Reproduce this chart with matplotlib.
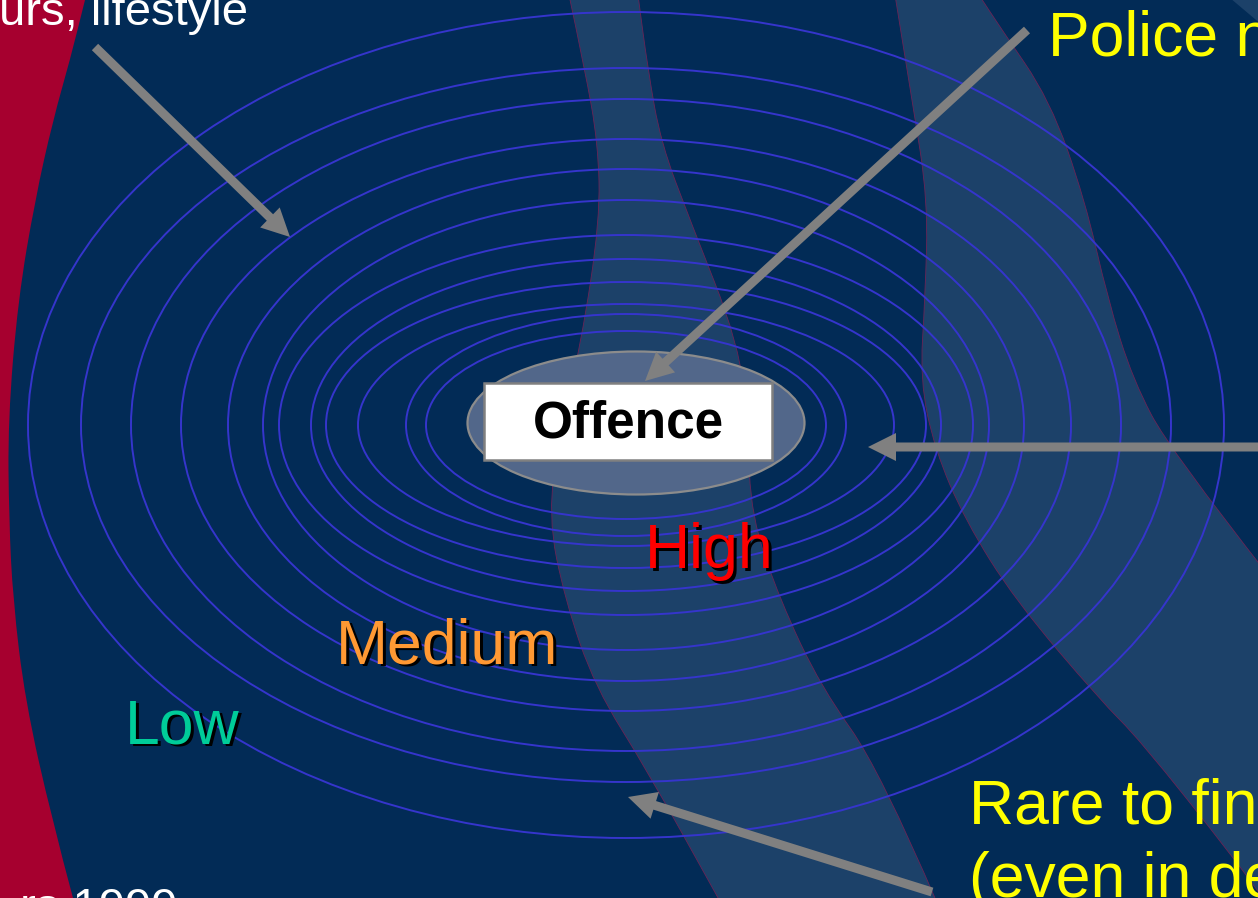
import matplotlib
matplotlib.use("Agg")
import matplotlib.pyplot as plt
from matplotlib.patches import Ellipse, Polygon, Rectangle, FancyArrow, PathPatch
from matplotlib.path import Path

# -----------------------------
# Shapes (pixel units of the slide)
# -----------------------------
W, H = 1258, 898

# left red area, edge x at each y
red_y = [0, 60, 120, 200, 300, 420, 520, 600, 700, 820, 898]
red_x = [85, 70, 53, 35, 18, 8, 9, 13, 25, 52, 73]

# middle light band
band1_y = [-5, 70, 143, 220, 344, 430, 516, 600, 687, 770, 905]
band1_left = [569, 585, 598, 600, 581, 560, 548, 565, 595, 647, 722]
band1_right = [638, 648, 661, 690, 739, 748, 751, 780, 821, 880, 938]

# right light band
band2_left_y = [-5, 100, 200, 300, 380, 450, 520, 600, 700, 740, 857, 905]
band2_left = [895, 912, 928, 925, 920, 935, 965, 1015, 1100, 1140, 1233, 1268]
band2_right_y = [-5, 27, 100, 200, 300, 380, 450, 575]
band2_right = [979, 1000, 1050, 1085, 1108, 1133, 1170, 1268]

# concentric rings round the offence (semi axes)
ring_a = [598, 545, 495, 445, 398, 363, 347, 315, 300, 268, 220, 200]
ring_b = [413, 357, 326, 286, 256, 225, 190, 166, 143, 121, 111, 94]

levels = ["High", "Medium", "Low"]
level_colors = ["#FF0000", "#FF9933", "#00CC99"]

BG = "#022B56"
RED = "#A6002F"
BAND = "#1C4169"
RING = "#3535CC"
ARROW = "#808080"
YELLOW = "#FFFF00"
FONT = "Liberation Sans"


def smooth(pts, first=True):
    # quadratic curves through the midpoints, so the edge has no corners
    verts, codes = [pts[0]], [Path.MOVETO if first else Path.LINETO]
    for i in range(1, len(pts) - 1):
        mid = ((pts[i][0] + pts[i + 1][0]) / 2, (pts[i][1] + pts[i + 1][1]) / 2)
        verts += [pts[i], mid]
        codes += [Path.CURVE3, Path.CURVE3]
    verts.append(pts[-1])
    codes.append(Path.LINETO)
    return verts, codes


def band_patch(lx, ly, rx, ry, **kw):
    v1, c1 = smooth(list(zip(lx, ly)))
    v2, c2 = smooth(list(zip(rx[::-1], ry[::-1])), first=False)
    verts = v1 + v2 + [v1[0]]
    codes = c1 + c2 + [Path.CLOSEPOLY]
    return PathPatch(Path(verts, codes), **kw)


fig = plt.figure(figsize=(W / 100, H / 100), dpi=100)
fig.patch.set_facecolor(BG)
ax = fig.add_axes([0, 0, 1, 1])
ax.set_xlim(0, W)
ax.set_ylim(H, 0)
ax.axis("off")
ax.set_facecolor(BG)

# red area
ax.add_patch(band_patch([-10] * 2, [-10, H + 10], red_x, red_y,
                        facecolor=RED, edgecolor="none", zorder=1))

# light bands
ax.add_patch(band_patch(band1_left, band1_y, band1_right, band1_y,
                        facecolor=BAND, edgecolor="#6a2456", linewidth=0.6, zorder=2))
ax.add_patch(band_patch(band2_left, band2_left_y, band2_right, band2_right_y,
                        facecolor=BAND, edgecolor="#6a2456", linewidth=0.6, zorder=2))
ax.add_patch(Polygon([(1230, -2), (1262, -2), (1262, 25)], closed=True,
                     facecolor=BAND, edgecolor="none", zorder=2))

# rings
cx, cy = 626, 425
for a, b in zip(ring_a, ring_b):
    ax.add_patch(Ellipse((cx, cy), 2 * a, 2 * b, fill=False, edgecolor=RING,
                         linewidth=1.4, zorder=3))

# offence
ax.add_patch(Ellipse((636, 423), 337, 143, facecolor="#52678A", edgecolor="#8C8C8C",
                     linewidth=1.6, zorder=4))
ax.add_patch(Rectangle((484, 383), 288, 77, facecolor="white", edgecolor="#808080",
                       linewidth=1.8, zorder=5))
ax.text(628, 424, "Offence", ha="center", va="center", fontsize=37,
        fontweight="bold", family=FONT, color="black", zorder=6)

# arrows
arrows = [((95, 47), (290, 237)),
          ((1027, 30), (645, 381)),
          ((1262, 447), (868, 447)),
          ((932, 892), (628, 797))]
for (x0, y0), (x1, y1) in arrows:
    ax.add_patch(FancyArrow(x0, y0, x1 - x0, y1 - y0, width=9, head_width=28,
                            head_length=28, length_includes_head=True,
                            color=ARROW, linewidth=0, zorder=7))

# level labels with shadow
level_pos = [(645, 568), (336, 663), (125, 743)]
for t, c, (x, y) in zip(levels, level_colors, level_pos):
    ax.text(x + 2.5, y + 2.5, t, fontsize=45, family=FONT, color="black",
            va="baseline", zorder=8)
    ax.text(x, y, t, fontsize=45, family=FONT, color=c, va="baseline", zorder=9)

# side notes
ax.text(248, 25, "urs, lifestyle", ha="right", va="baseline", fontsize=34,
        family=FONT, color="white", zorder=9)
ax.text(178, 921, "rs 1999", ha="right", va="baseline", fontsize=34,
        family=FONT, color="white", zorder=9)
ax.text(1048, 55, "Police n", ha="left", va="baseline", fontsize=45,
        family=FONT, color=YELLOW, zorder=9)
ax.text(969, 823, "Rare to fin", ha="left", va="baseline", fontsize=45,
        family=FONT, color=YELLOW, zorder=9)
ax.text(969, 897, "(even in de", ha="left", va="baseline", fontsize=45,
        family=FONT, color=YELLOW, zorder=9)

fig.savefig("out.png", dpi=100, facecolor=BG)
